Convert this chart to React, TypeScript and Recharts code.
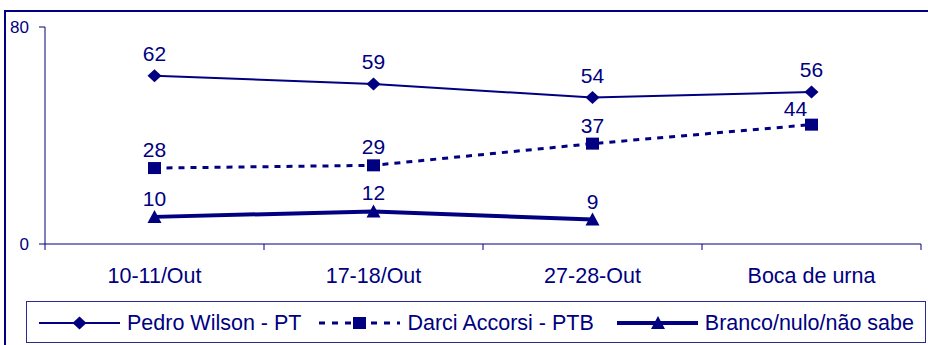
import React from 'react';
import { LineChart, Line, XAxis, YAxis, Legend, LabelList } from 'recharts';

const categories = ['10-11/Out', '17-18/Out', '27-28-Out', 'Boca de urna'];
const pedroWilson = [62, 59, 54, 56];
const darciAccorsi = [28, 29, 37, 44];
const brancoNulo: (number | null)[] = [10, 12, 9, null];
const yTicks = [0, 80];
const seriesNames = ['Pedro Wilson - PT', 'Darci Accorsi - PTB', 'Branco/nulo/não sabe'];

const data = categories.map((c, i) => ({
  name: c,
  pos: i + 0.5,
  pedro: pedroWilson[i],
  darci: darciAccorsi[i],
  branco: brancoNulo[i],
}));
const xTicks = categories.flatMap((_, i) => [i, i + 0.5]).concat([categories.length]);

const NAVY = '#000080';
const FONT = "Arial, 'Liberation Sans', sans-serif";

const Diamond = ({ cx, cy }: { cx: number; cy: number }) => (
  <polygon points={`${cx},${cy - 6.5} ${cx + 7},${cy} ${cx},${cy + 6.5} ${cx - 7},${cy}`} fill={NAVY} />
);
const Square = ({ cx, cy }: { cx: number; cy: number }) => (
  <rect x={cx - 6.5} y={cy - 6} width={13} height={12} fill={NAVY} />
);
const Triangle = ({ cx, cy }: { cx: number; cy: number }) => (
  <polygon points={`${cx},${cy - 7} ${cx + 7},${cy + 6} ${cx - 7},${cy + 6}`} fill={NAVY} />
);

const makeDot = (Shape: any) => (props: any) => {
  const { cx, cy, index, value } = props;
  if (cx == null || cy == null || value == null) return <g key={`d${index}`} />;
  return <Shape key={`d${index}`} cx={cx} cy={cy} />;
};

const makeLabel = (above: number, lastShift?: { dx: number; dy: number }) => (props: any) => {
  const { x, y, value, index } = props;
  if (value == null || x == null || y == null) return null;
  let dx = 0;
  let dy = above;
  if (lastShift && index === categories.length - 1) {
    dx = lastShift.dx;
    dy = lastShift.dy;
  }
  return (
    <text x={x + dx} y={y - dy} textAnchor="middle" fontSize={21} fill={NAVY} fontFamily={FONT}>
      {value}
    </text>
  );
};

const XTick = (props: any) => {
  const { x, y, payload } = props;
  const v = payload.value as number;
  if (Number.isInteger(v)) {
    return <line x1={x} x2={x} y1={y} y2={y + 6} stroke={NAVY} strokeWidth={1} />;
  }
  const label = categories[Math.floor(v)];
  return (
    <text x={x} y={y + 39} textAnchor="middle" fontSize={21.5} fill={NAVY} fontFamily={FONT}>
      {label}
    </text>
  );
};

const LegendContent = () => {
  const item = (sample: React.ReactNode, text: string, mr: number) => (
    <div style={{ display: 'flex', alignItems: 'center', marginRight: mr }}>
      <svg width={81} height={20} style={{ display: 'block' }}>
        {sample}
      </svg>
      <span style={{ marginLeft: 7, fontSize: 21.5, color: NAVY, fontFamily: FONT, whiteSpace: 'nowrap', lineHeight: '24px' }}>
        {text}
      </span>
    </div>
  );
  return (
    <div
      style={{
        boxSizing: 'border-box',
        width: 900,
        height: 42,
        border: '1px solid #2a2a96',
        display: 'flex',
        alignItems: 'center',
        paddingLeft: 12,
        paddingTop: 2,
      }}
    >
      {item(
        <g>
          <line x1={0} x2={81} y1={10} y2={10} stroke={NAVY} strokeWidth={2} />
          <Diamond cx={40.5} cy={10} />
        </g>,
        seriesNames[0],
        18
      )}
      {item(
        <g>
          <line x1={0} x2={81} y1={10} y2={10} stroke={NAVY} strokeWidth={3} strokeDasharray="6 7" />
          <Square cx={40.5} cy={10} />
        </g>,
        seriesNames[1],
        23
      )}
      {item(
        <g>
          <line x1={0} x2={81} y1={10} y2={10} stroke={NAVY} strokeWidth={4} />
          <Triangle cx={41} cy={10} />
        </g>,
        seriesNames[2],
        0
      )}
    </div>
  );
};

export default function App() {
  return (
    <div
      style={{
        position: 'absolute',
        left: 0,
        top: 0,
        width: 928,
        height: 345,
        overflow: 'hidden',
        background: '#fff',
      }}
    >
      <div
        style={{
          position: 'absolute',
          left: 4,
          top: 10,
          width: 1000,
          height: 400,
          border: `2px solid ${NAVY}`,
        }}
      />
      <div style={{ position: 'absolute', left: 0, top: 0 }}>
        <LineChart
          width={928}
          height={345}
          data={data}
          margin={{ top: 27, right: 7, left: 0, bottom: 71 }}
          style={{ fontFamily: FONT }}
        >
          <XAxis
            dataKey="pos"
            type="number"
            domain={[0, categories.length]}
            ticks={xTicks}
            interval={0}
            tickSize={0}
            tickMargin={0}
            tickLine={false}
            tick={<XTick />}
            axisLine={{ stroke: NAVY, strokeWidth: 1 }}
            height={30}
          />
          <YAxis
            domain={[0, 80]}
            ticks={yTicks}
            width={45}
            tickSize={6}
            tickMargin={10}
            tick={{ fill: NAVY, fontSize: 17, fontFamily: FONT }}
            tickLine={{ stroke: NAVY }}
            axisLine={{ stroke: NAVY, strokeWidth: 1 }}
          />
          <Legend
            layout="horizontal"
            verticalAlign="middle"
            align="center"
            content={<LegendContent />}
            wrapperStyle={{ position: 'absolute', left: 26, top: 301, width: 900, height: 42 }}
          />
          <Line
            type="linear"
            dataKey="pedro"
            name={seriesNames[0]}
            stroke={NAVY}
            strokeWidth={2}
            dot={makeDot(Diamond)}
            activeDot={false}
            isAnimationActive={false}
          >
            <LabelList dataKey="pedro" content={makeLabel(15)} />
          </Line>
          <Line
            type="linear"
            dataKey="darci"
            name={seriesNames[1]}
            stroke={NAVY}
            strokeWidth={3}
            strokeDasharray="6 6"
            dot={makeDot(Square)}
            activeDot={false}
            isAnimationActive={false}
          >
            <LabelList dataKey="darci" content={makeLabel(11, { dx: -16, dy: 9 })} />
          </Line>
          <Line
            type="linear"
            dataKey="branco"
            name={seriesNames[2]}
            stroke={NAVY}
            strokeWidth={4}
            dot={makeDot(Triangle)}
            activeDot={false}
            connectNulls={false}
            isAnimationActive={false}
          >
            <LabelList dataKey="branco" content={makeLabel(11)} />
          </Line>
        </LineChart>
      </div>
    </div>
  );
}
